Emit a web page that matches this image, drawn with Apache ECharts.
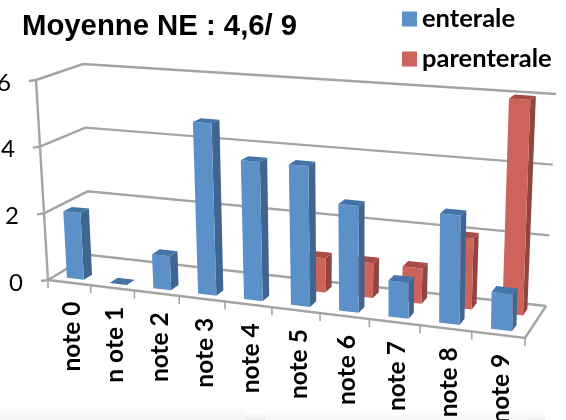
<!DOCTYPE html>
<html>
<head>
<meta charset="utf-8">
<style>html,body{margin:0;padding:0;background:#fff}#chart{width:566px;height:420px}</style>
<script src="https://cdn.jsdelivr.net/npm/echarts@6/dist/echarts.min.js"></script>
</head>
<body>
<div id="chart"></div>
<script>
// Counts per note
const categories = ['note 0', 'n ote 1', 'note 2', 'note 3', 'note 4', 'note 5', 'note 6', 'note 7', 'note 8', 'note 9'];
const enterale = [2, 0, 1, 5, 4, 4, 3, 1, 3, 1];
const parenterale = [null, null, null, null, null, 1, 1, 1, 2, 6];
const yTicks = [0, 2, 4, 6];

// Screen corners of the 3D box: u runs along the categories,
// w runs from the front to the back wall and v runs up the value axis.
const box = {
  fb0: [48, 280], fb1: [525, 338], bb0: [90, 255], bb1: [546, 306],
  ft0: [36, 80], ft1: [529, 114], bt0: [83, 64], bt1: [556, 94]
};
const foreshorten = 1.13;
const mix = (a, b, t) => [a[0] + (b[0] - a[0]) * t, a[1] + (b[1] - a[1]) * t];
function project(u, v, w) {
  const s = u / (u + foreshorten * (1 - u));
  const bottom = mix(mix(box.fb0, box.fb1, s), mix(box.bb0, box.bb1, s), w);
  const top = mix(mix(box.ft0, box.ft1, s), mix(box.bt0, box.bt1, s), w);
  return mix(bottom, top, v);
}
// Grid pixels from the axes, normalised to the box
function unit(params, api, x, y) {
  const c = params.coordSys, p = api.coord([x, y]);
  return [(p[0] - c.x) / c.width, (c.y + c.height - p[1]) / c.height];
}

const GRID = '#a4a4a4';
const rows = { front: 0.25, back: 0.75 };
const halfDepth = 0.1;

function bar3d(faces, row) {
  return function (params, api) {
    const idx = api.value(0), val = api.value(1);
    if (val == null || isNaN(val)) return null;
    const c = params.coordSys;
    const [uc, v] = unit(params, api, idx, val);
    const half = api.size([1, 0])[0] / c.width * 0.2;
    const u0 = uc - half, u1 = uc + half;
    const w0 = row - halfDepth, w1 = row + halfDepth;
    const poly = (pts, color) => ({
      type: 'polygon', shape: { points: pts }, style: { fill: color }
    });
    const kids = [];
    if (v > 0) {
      kids.push(poly([project(u1, 0, w0), project(u1, 0, w1), project(u1, v, w1), project(u1, v, w0)], faces.side));
      kids.push(poly([project(u0, 0, w0), project(u1, 0, w0), project(u1, v, w0), project(u0, v, w0)], faces.front));
    }
    kids.push(poly([project(u0, v, w0), project(u1, v, w0), project(u1, v, w1), project(u0, v, w1)], faces.top));
    return { type: 'group', children: kids };
  };
}

function line(pts, width) {
  return { type: 'polyline', shape: { points: pts }, style: { stroke: GRID, lineWidth: width || 2.4, fill: 'none' } };
}

function renderWalls(params, api) {
  const [, v] = unit(params, api, 0, api.value(1));
  const a = project(0, v, 0);
  const kids = [
    line([a, project(0, v, 1), project(1, v, 1)]),
    line([[a[0] - 7, a[1] + 1], a])
  ];
  if (params.dataIndex === 0) {
    kids.push(line([project(0, 0, 0), project(0, 1, 0)]));
    kids.push(line([project(0, 0, 0), project(1, 0, 0), project(1, 0, 1)]));
    for (let i = 0; i <= categories.length; i++) {
      const t = project(i / categories.length, 0, 0);
      kids.push(line([t, [t[0], t[1] + 8]], 1.6));
    }
  }
  return { type: 'group', children: kids };
}

function renderXLabel(params, api) {
  const [u] = unit(params, api, api.value(0), 0);
  const p = project(u, 0, 0);
  return {
    type: 'text', x: p[0] + 3, y: p[1] + 19, rotation: Math.PI / 2,
    style: {
      text: categories[params.dataIndex], align: 'right', verticalAlign: 'middle',
      font: 'bold 24.5px Lato', fill: '#000'
    }
  };
}

function renderYLabel(params, api) {
  const val = api.value(1);
  const [, v] = unit(params, api, 0, val);
  const p = project(0, v, 0);
  return {
    type: 'text', x: p[0] - 25, y: p[1] + 3,
    style: { text: String(val), align: 'right', verticalAlign: 'middle', font: '24px Lato', fill: '#000' }
  };
}

// Soft panel edges along the bottom of the page
function panel(x, y, w, h, shade) {
  return {
    type: 'rect', z: 0, silent: true, shape: { x: x, y: y, width: w, height: h },
    style: {
      fill: new echarts.graphic.LinearGradient(0, 0, 0, 1, [
        { offset: 0, color: '#ffffff' }, { offset: 1, color: shade }
      ])
    }
  };
}

const blueFaces = { front: '#5b90c8', side: '#3f6590', top: '#4574a8' };
const redFaces = { front: '#cd635a', side: '#8f4540', top: '#a84c47' };

const chart = echarts.init(document.getElementById('chart'), null, { renderer: 'canvas' });
chart.setOption({
  animation: false,
  backgroundColor: '#fff',
  title: {
    text: 'Moyenne NE : 4,6/ 9', left: 17, top: 7,
    textStyle: { fontFamily: 'Liberation Sans', fontWeight: 'bold', fontSize: 29.3, color: '#000' }
  },
  legend: {
    orient: 'vertical', left: 402, top: 6, padding: 0, itemWidth: 15, itemHeight: 15, itemGap: 14,
    icon: 'rect', data: ['enterale', 'parenterale'],
    textStyle: { fontFamily: 'Lato', fontWeight: 'bold', fontSize: 25.5, color: '#000', padding: [8, 0, 0, 0] }
  },
  graphic: [
    panel(0, 405, 245, 15, '#f5f5f5'),
    panel(265, 407, 262, 13, '#f7f7f7'),
    panel(245, 413, 20, 7, '#ececec'),
    panel(527, 413, 18, 7, '#f0f0f0')
  ],
  grid: { left: 60, right: 60, top: 80, bottom: 80 },
  xAxis: { type: 'category', data: categories, show: false },
  yAxis: { type: 'value', min: 0, max: 6, interval: 2, show: false },
  series: [
    {
      type: 'custom', silent: true, z: 1, renderItem: renderWalls,
      data: yTicks.map(t => [0, t]), encode: { x: 0, y: 1 }
    },
    {
      type: 'custom', name: 'parenterale', z: 2, itemStyle: { color: redFaces.front },
      renderItem: bar3d(redFaces, rows.back),
      data: parenterale.map((v, i) => [i, v]), encode: { x: 0, y: 1 }
    },
    {
      type: 'custom', name: 'enterale', z: 3, itemStyle: { color: blueFaces.front },
      renderItem: bar3d(blueFaces, rows.front),
      data: enterale.map((v, i) => [i, v]), encode: { x: 0, y: 1 }
    },
    {
      type: 'custom', silent: true, z: 4, renderItem: renderXLabel,
      data: categories.map((c, i) => [i, 0]), encode: { x: 0, y: 1 }
    },
    {
      type: 'custom', silent: true, z: 4, renderItem: renderYLabel,
      data: yTicks.map(t => [0, t]), encode: { x: 0, y: 1 }
    }
  ]
});
</script>
</body>
</html>
